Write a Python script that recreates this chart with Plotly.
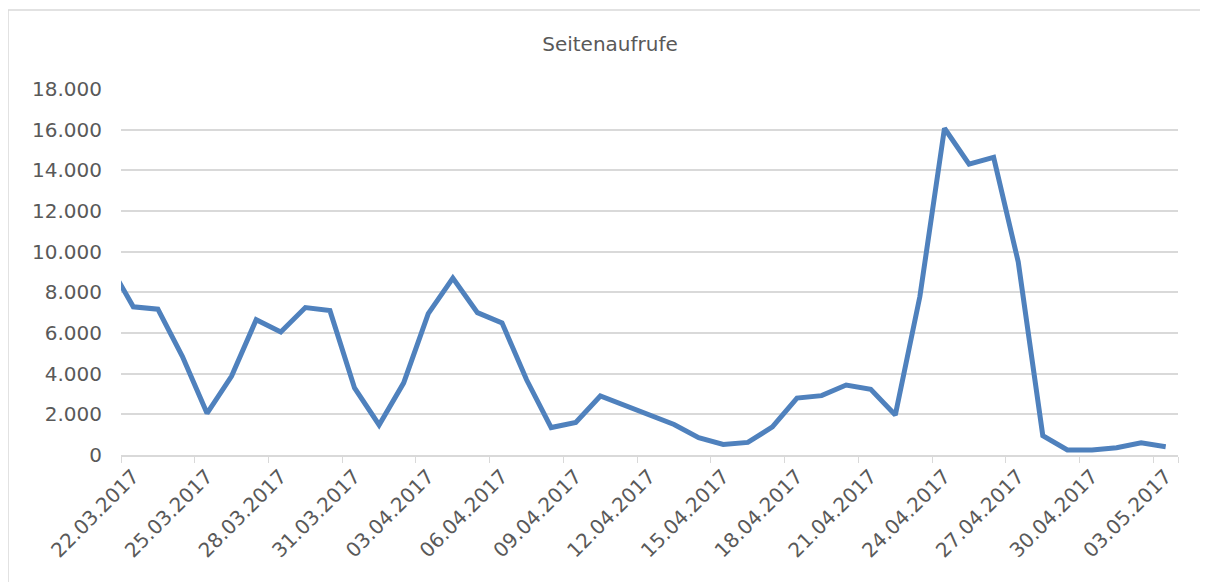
import plotly.graph_objects as go
import pandas as pd

# Daily page views (first day only partially visible at the left edge)
dates = [d.strftime("%d.%m.%Y") for d in pd.date_range("2017-03-21", "2017-05-03", freq="D")]
views = [9400,
         7290, 7170, 4840, 2050, 3880, 6650, 6050, 7250, 7100, 3300,
         1480, 3550, 6950, 8700, 7000, 6500, 3700, 1350, 1600, 2900,
         2450, 1980, 1500, 850, 520, 620, 1380, 2800, 2920, 3440,
         3230, 1970, 7800, 16070, 14300, 14640, 9500, 950, 250, 250,
         360, 600, 410]
tick_labels = dates[1::3]
y_ticks = [0, 2000, 4000, 6000, 8000, 10000, 12000, 14000, 16000, 18000]
title = "Seitenaufrufe"

grey_text = "#595959"
grid = "#d9d9d9"

fig = go.Figure()
fig.add_trace(go.Scatter(
    x=dates, y=views, mode="lines",
    line=dict(color="#4f81bd", width=5),
    hoverinfo="x+y", showlegend=False,
))

# the page body has an 8px margin, so the figure starts at (8, 8)
OFF = 8
W, H = 1200, 574
L, R, T, B = 121 - OFF, 1178 - OFF, 89 - OFF, 455 - OFF
fig.update_layout(
    width=W, height=H,
    margin=dict(l=L, r=W - R, t=T, b=H - B),
    paper_bgcolor="white", plot_bgcolor="white",
    separators=",.",
    font=dict(family="DejaVu Sans", size=20, color=grey_text),
    title=dict(text=title, x=(610 - OFF) / W, xref="container", xanchor="center",
               y=1 - (44 - OFF) / H, yref="container", yanchor="middle",
               font=dict(size=20, color=grey_text)),
    xaxis=dict(
        type="category", range=[0.5, len(dates) - 0.5],
        tickmode="array", tickvals=tick_labels, ticktext=tick_labels,
        tickangle=-45, tickson="boundaries",
        ticks="outside", ticklen=6, tickcolor=grid, tickwidth=1,
        showline=True, linecolor=grid, linewidth=1.5,
        showgrid=False, zeroline=False,
        tickfont=dict(size=20, color=grey_text),
    ),
    yaxis=dict(
        range=[0, 18000], tickmode="array", tickvals=y_ticks,
        tickformat=",d", showgrid=True, gridcolor=grid, gridwidth=1.5,
        zeroline=False, showline=False, ticks="",
        ticklabelstandoff=18,
        tickfont=dict(size=20, color=grey_text),
    ),
    shapes=[dict(type="rect", xref="paper", yref="paper",
                 x0=(8 - 121) / (1178 - 121), x1=(1203 - 121) / (1178 - 121),
                 y0=-1.0, y1=(455 - 10) / (455 - 89),
                 line=dict(color=grid, width=1.5), fillcolor="rgba(0,0,0,0)",
                 layer="below")],
)

fig.write_html("out.html")
